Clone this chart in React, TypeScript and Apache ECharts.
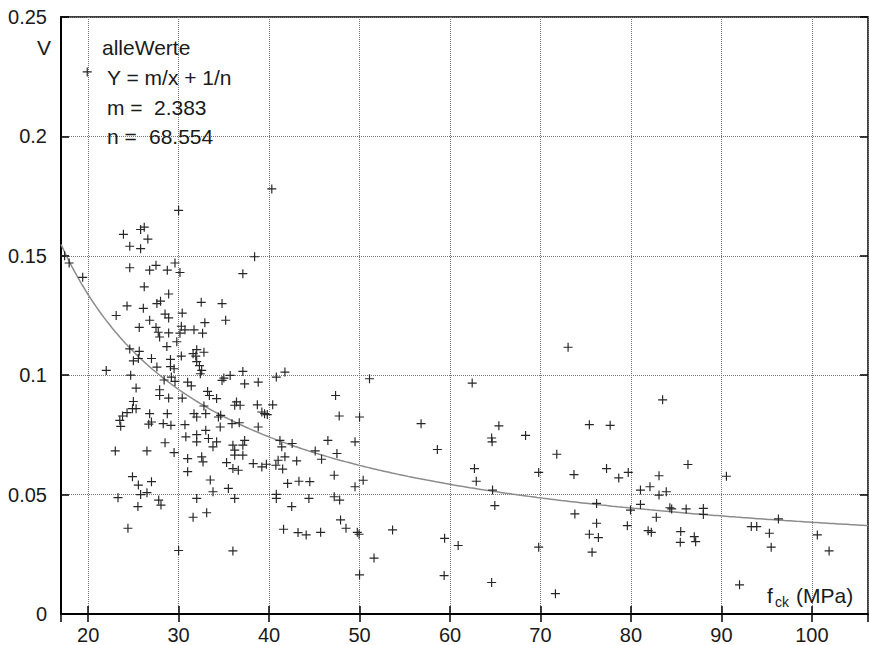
import React, { useEffect, useRef } from "react";
import * as echarts from "echarts";

// ---- axis ranges & labels ----
const X_MIN = 17;
const X_MAX = 106.2;
const Y_MIN = 0;
const Y_MAX = 0.25;
const Y_STEP = 0.05;

// ---- fit parameters (shown on chart) ----
const M = 2.383;
const N = 68.554;

const legendTitle = "alleWerte";
const legendFormula = "Y = m/x + 1/n";
const legendM = ["m =", "2.383"];
const legendN = ["n =", "68.554"];

// ---- measured points: [fck (MPa), V] ----
const pointsUpper: [number, number][] = [
  [19.9, 0.227], [30.0, 0.169], [40.3, 0.178], [23.9, 0.159], [25.8, 0.161],
  [26.2, 0.162], [26.6, 0.157], [24.6, 0.154], [25.8, 0.153], [29.6, 0.147],
  [17.4, 0.150], [17.9, 0.147], [19.4, 0.141], [24.6, 0.145], [26.8, 0.144],
  [27.5, 0.146], [28.75, 0.144], [30.15, 0.143], [37.1, 0.1425], [38.4, 0.1496],
  [26.2, 0.137], [28.9, 0.134], [24.3, 0.129], [26.1, 0.128], [27.6, 0.130],
  [28.0, 0.131], [32.5, 0.1305], [34.8, 0.130],
];

const pointsDense: [number, number][] = [
  [30.4, 0.126], [23.1, 0.125], [28.5, 0.1256], [28.9, 0.124], [26.8, 0.123],
  [32.9, 0.122], [35.2, 0.123], [25.65, 0.120], [27.5, 0.120], [27.75, 0.118],
  [30.3, 0.1205], [30.7, 0.119], [31.7, 0.119], [28.9, 0.1177], [30.15, 0.1176],
  [32.65, 0.1176], [27.9, 0.116], [29.8, 0.114], [28.7, 0.112], [32.0, 0.1107],
  [32.8, 0.1096], [24.6, 0.111], [25.65, 0.110], [30.3, 0.108], [31.9, 0.108],
  [31.6, 0.109], [25.0, 0.106], [25.55, 0.107], [29.1, 0.1066], [27.0, 0.107],
  [32.0, 0.1057], [32.3, 0.104], [27.6, 0.1034], [29.1, 0.1036], [29.5, 0.1027],
  [32.55, 0.102], [22.0, 0.102], [24.7, 0.100], [28.4, 0.098], [29.6, 0.0974],
  [29.2, 0.0992], [31.0, 0.0971], [31.4, 0.0955], [32.4, 0.1006], [35.7, 0.0999],
  [37.1, 0.1016], [37.3, 0.0964], [34.8, 0.0978], [35.0, 0.0988], [25.3, 0.0946],
  [27.9, 0.0939], [27.9, 0.0915], [28.9, 0.0904], [30.4, 0.0904], [33.2, 0.0932],
  [33.4, 0.0915], [32.8, 0.0871], [34.2, 0.0902], [34.65, 0.0832], [25.0, 0.089],
  [24.9, 0.086], [25.3, 0.086], [24.3, 0.0843], [23.8, 0.0829], [23.5, 0.0811],
  [23.6, 0.0786], [26.8, 0.0839], [27.0, 0.0804], [26.7, 0.0795], [28.75, 0.0839],
  [28.3, 0.0797], [29.15, 0.079], [30.7, 0.0793], [31.7, 0.0839], [32.0, 0.0825],
  [33.0, 0.0839], [33.0, 0.0769], [34.4, 0.0825], [34.6, 0.0783], [35.9, 0.0797],
  [36.4, 0.0888], [36.2, 0.0874], [36.8, 0.0874], [36.7, 0.0801], [30.8, 0.0742],
  [32.0, 0.0751], [32.0, 0.0721], [33.3, 0.0735], [34.2, 0.0721], [33.8, 0.070],
  [36.0, 0.0707], [36.2, 0.0686], [37.1, 0.0707], [37.3, 0.0727], [28.5, 0.0717],
  [29.5, 0.0676], [23.0, 0.0683], [26.5, 0.0683], [31.0, 0.0651], [32.55, 0.0658],
  [32.7, 0.0637], [35.3, 0.0634], [36.2, 0.0665], [37.1, 0.0665], [36.0, 0.0609],
  [36.6, 0.0602], [31.0, 0.0596], [24.9, 0.0575],
];

const pointsLowLeft: [number, number][] = [
  [25.55, 0.054], [27.0, 0.0554], [23.3, 0.0487], [25.8, 0.050], [26.5, 0.0508],
  [25.5, 0.045], [27.8, 0.0477], [28.05, 0.0456], [24.4, 0.0359], [30.0, 0.0266],
  [32.0, 0.0484], [31.6, 0.0405], [33.1, 0.0424], [36.2, 0.0484], [36.0, 0.0264],
  [42.5, 0.045], [41.6, 0.0355], [43.2, 0.0341], [40.8, 0.0484],
  [33.5, 0.0561], [33.8, 0.0512], [35.5, 0.0526],
];

const pointsMid: [number, number][] = [
  [38.8, 0.0971], [41.75, 0.1013], [40.8, 0.0992], [38.7, 0.0876], [39.2, 0.0846],
  [39.5, 0.0839], [39.8, 0.0835], [40.4, 0.0876], [38.8, 0.0783], [41.2, 0.0727],
  [41.4, 0.070], [42.55, 0.0714], [41.75, 0.0658], [41.0, 0.0644], [40.75, 0.0623],
  [39.7, 0.0627], [39.2, 0.0616], [38.25, 0.063], [43.05, 0.0641], [45.1, 0.0683],
  [45.8, 0.0648], [46.5, 0.0727], [47.5, 0.0672], [47.35, 0.0915], [47.75, 0.0829],
  [49.5, 0.0721], [50.0, 0.0825], [51.1, 0.0985], [50.4, 0.056], [49.5, 0.0533],
  [47.2, 0.0581], [44.5, 0.0554], [43.3, 0.0556], [42.05, 0.0547], [40.8, 0.0501],
  [44.1, 0.0331], [45.7, 0.0342], [44.4, 0.0484], [47.2, 0.0491], [47.8, 0.0477],
  [47.9, 0.0394], [48.5, 0.0359], [49.75, 0.0342], [49.95, 0.0334], [50.0, 0.0164],
  [51.6, 0.0234], [53.65, 0.0352], [41.5, 0.0607],
];

const pointsHigh: [number, number][] = [
  [73.05, 0.1117], [62.45, 0.0967], [56.8, 0.0797], [65.4, 0.0788], [64.6, 0.0737],
  [64.65, 0.0721], [68.35, 0.0748], [58.6, 0.0689], [75.4, 0.0793], [77.7, 0.079],
  [71.8, 0.0669], [62.7, 0.0609], [62.9, 0.0556], [69.8, 0.0593], [73.7, 0.0584],
  [77.3, 0.0609], [78.65, 0.057], [79.7, 0.0593], [64.7, 0.0519], [64.95, 0.0454],
  [76.2, 0.0463], [73.8, 0.0419], [76.2, 0.038], [75.4, 0.0334], [76.4, 0.032],
  [75.7, 0.0259], [79.6, 0.037], [59.4, 0.0317], [60.9, 0.0287], [69.8, 0.028],
  [59.35, 0.0161], [64.6, 0.0132], [71.65, 0.0085],
  [83.5, 0.0897], [86.3, 0.0626], [83.1, 0.0579], [90.55, 0.0577], [81.05, 0.0519],
  [82.1, 0.0533], [83.1, 0.0498], [83.9, 0.0512], [81.05, 0.0459], [79.95, 0.0435],
  [84.3, 0.0445], [84.5, 0.044], [86.1, 0.044], [88.0, 0.0442], [88.0, 0.0417],
  [82.8, 0.0405], [81.9, 0.0349], [82.25, 0.0342], [85.5, 0.0345], [85.45, 0.030],
  [87.0, 0.0324], [87.15, 0.0303], [93.3, 0.0366], [93.9, 0.0366], [96.3, 0.0398],
  [95.3, 0.0338], [95.5, 0.028], [100.6, 0.0331], [101.9, 0.0264], [92.0, 0.0122],
];

const FONT = "'Liberation Sans', Arial, Helvetica, sans-serif";
const TEXT = "#1a1a1a";
const PLUS = "path://M4.35,0H5.65V4.35H10V5.65H5.65V10H4.35V5.65H0V4.35H4.35Z";

function fitCurve(): [number, number][] {
  const out: [number, number][] = [];
  const steps = 300;
  for (let i = 0; i <= steps; i++) {
    const x = X_MIN + ((X_MAX - X_MIN) * i) / steps;
    out.push([x, M / x + 1 / N]);
  }
  return out;
}

export default function App() {
  const ref = useRef<HTMLDivElement>(null);

  useEffect(() => {
    if (!ref.current) return;
    const chart = echarts.init(ref.current, undefined, { renderer: "svg" });
    const allPoints = [
      ...pointsUpper,
      ...pointsDense,
      ...pointsLowLeft,
      ...pointsMid,
      ...pointsHigh,
    ];
    const txt = (x: number, y: number, text: string, fontSize = 21, align = "left") => ({
      type: "text",
      x,
      y,
      z: 100,
      style: {
        text,
        fontSize,
        fontFamily: FONT,
        fill: TEXT,
        align,
        verticalAlign: "middle",
        textAlign: align,
        textVerticalAlign: "middle",
      },
    });
    const option: any = {
      animation: false,
      backgroundColor: "#ffffff",
      grid: {
        left: 61,
        top: 17,
        right: 1,
        bottom: 29,
        show: true,
        borderColor: "#000",
        borderWidth: 1.5,
        backgroundColor: "transparent",
      },
      xAxis: [
        {
          type: "value",
          min: X_MIN,
          max: X_MAX,
          splitNumber: 9,
          axisLine: { show: true, onZero: false, lineStyle: { color: "#000", width: 2 } },
          axisTick: { show: true, inside: true, length: 8, lineStyle: { color: "#000", width: 1.5 } },
          axisLabel: {
            color: TEXT,
            fontSize: 20,
            fontFamily: FONT,
            margin: 11,
            showMinLabel: false,
            showMaxLabel: false,
          },
          splitLine: { show: true, lineStyle: { color: "#777", type: "dotted", width: 1 } },
        },
        {
          type: "value",
          position: "top",
          min: X_MIN,
          max: X_MAX,
          splitNumber: 9,
          axisLine: { show: false },
          axisTick: { show: true, inside: true, length: 8, lineStyle: { color: "#000", width: 1.5 } },
          axisLabel: { show: false },
          splitLine: { show: false },
        },
      ],
      yAxis: [
        {
          type: "value",
          min: Y_MIN,
          max: Y_MAX,
          interval: Y_STEP,
          axisLine: { show: true, onZero: false, lineStyle: { color: "#000", width: 2 } },
          axisTick: { show: true, inside: true, length: 8, lineStyle: { color: "#000", width: 1.5 } },
          axisLabel: {
            color: TEXT,
            fontSize: 20,
            fontFamily: FONT,
            margin: 14,
            formatter: (v: number) => String(parseFloat(v.toFixed(3))),
          },
          splitLine: { show: true, lineStyle: { color: "#777", type: "dotted", width: 1 } },
        },
        {
          type: "value",
          position: "right",
          min: Y_MIN,
          max: Y_MAX,
          interval: Y_STEP,
          axisLine: { show: false },
          axisTick: { show: true, inside: true, length: 8, lineStyle: { color: "#000", width: 1.5 } },
          axisLabel: { show: false },
          splitLine: { show: false },
        },
      ],
      series: [
        {
          type: "line",
          data: fitCurve(),
          showSymbol: false,
          symbol: "none",
          lineStyle: { color: "#8c8c8c", width: 1.5 },
          z: 2,
          silent: true,
        },
        {
          type: "scatter",
          name: legendTitle,
          data: allPoints,
          symbol: PLUS,
          symbolSize: 9,
          itemStyle: { color: "#262626", opacity: 1 },
          z: 3,
          silent: true,
        },
      ],
      graphic: [
        txt(44, 47, "V", 21, "center"),
        txt(102, 47, legendTitle),
        txt(107, 77, legendFormula),
        txt(107, 107, legendM[0]),
        txt(154, 107, legendM[1]),
        txt(107, 136, legendN[0]),
        txt(149, 136, legendN[1]),
        txt(767, 595, "f"),
        txt(775, 602, "ck", 14),
        txt(796, 595, "(MPa)"),
      ],
    };
    chart.setOption(option);
    return () => chart.dispose();
  }, []);

  return (
    <div
      ref={ref}
      style={{ position: "absolute", left: 0, top: 0, width: 869, height: 645 }}
    />
  );
}
